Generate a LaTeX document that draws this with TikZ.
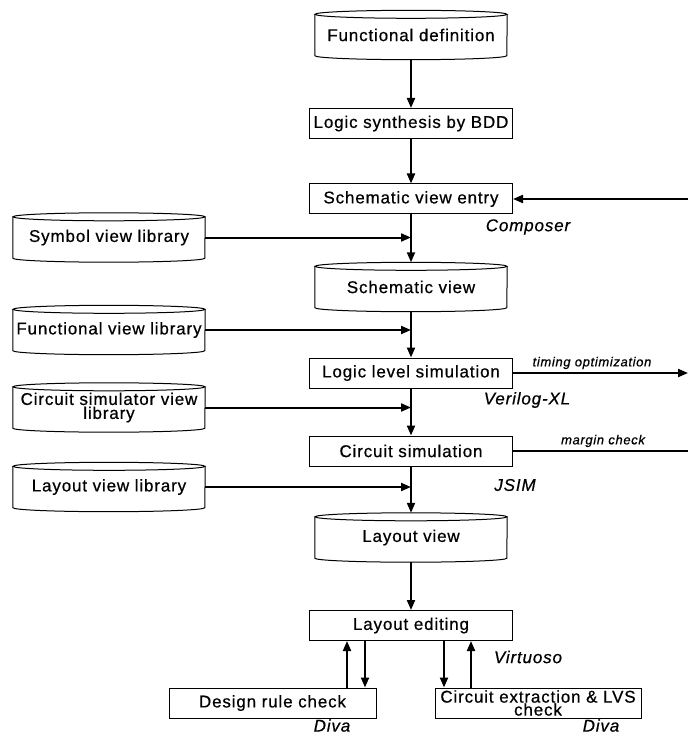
\documentclass[tikz,border=0pt]{standalone}
\usepackage{fontspec}
\setmainfont{Liberation Sans}[LetterSpace=5,FakeBold=0.6]
\usetikzlibrary{arrows.meta,calc}
\tikzset{
  box/.style={draw, line width=1pt, minimum width=203pt, minimum height=30pt, inner sep=0pt, font=\fontsize{17}{17}\selectfont, align=center},
  cylnode/.style={minimum width=192pt, minimum height=49pt, inner sep=0pt, font=\fontsize{17}{17}\selectfont, align=center},
  arr/.style={line width=2pt, -{Triangle[length=10pt,width=8pt]}},
  plain/.style={line width=1.3pt},
  tool/.style={font=\fontsize{17}{17}\selectfont\itshape, inner sep=0pt},
  small/.style={font=\fontsize{13}{13}\selectfont\itshape, inner sep=0pt},
}
\newcommand\cylout[1]{%
  \draw[line width=1pt] ([yshift=-4pt]#1.north) ellipse [x radius=96pt, y radius=4pt];
  \draw[line width=1pt] ([yshift=-4pt]#1.north west) -- ([yshift=4pt]#1.south west)
     arc [start angle=180, end angle=360, x radius=96pt, y radius=4pt]
     -- ([yshift=-4pt]#1.north east);
}
\begin{document}
\begin{tikzpicture}[x=1pt,y=-1pt]
\fill[white] (0,0) rectangle (688,735);
\useasboundingbox (0,0) rectangle (688,735);

\node[cylnode] (fd) at (411,35) {\raisebox{-2pt}{Functional definition}};
\node[box] (ls) at (411,123.5) {\raisebox{-1.5pt}{Logic synthesis by BDD}};
\node[box] (sve) at (411,199) {\raisebox{-1.5pt}{Schematic view entry}};
\node[cylnode] (slib) at (109,237.5) {\raisebox{-2pt}{Symbol view library}};
\node[cylnode] (sv) at (411,287) {\raisebox{-2pt}{Schematic view}};
\node[cylnode] (flib) at (109,330) {\raisebox{-2pt}{Functional view library}};
\node[box] (lls) at (411,373) {\raisebox{-1.5pt}{Logic level simulation}};
\node[cylnode, font=\fontsize{17}{14}\selectfont] (clib) at (109,407.5) {Circuit simulator view\\library};
\node[box] (cs) at (411,451) {\raisebox{-1.5pt}{Circuit simulation}};
\node[cylnode] (llib) at (109,487) {\raisebox{-2pt}{Layout view library}};
\node[cylnode] (lv) at (411,537.5) {\raisebox{-2pt}{Layout view}};
\node[box] (le) at (411,625.5) {\raisebox{-1.5pt}{Layout editing}};
\node[box, minimum width=207pt] (drc) at (272.5,703) {\raisebox{-1.5pt}{Design rule check}};
\node[box, minimum width=206pt, font=\fontsize{17}{13}\selectfont] (ce) at (538,703) {Circuit extraction \& LVS\\check};

\foreach \c in {fd,slib,sv,flib,clib,llib,lv} {\cylout{\c}}

\coordinate (r1) at (688,199);
\coordinate (r2) at (688,373);
\coordinate (r3) at (688,451);

\draw[arr] (fd.south) -- (ls.north);
\draw[arr] (ls.south) -- (sve.north);
\draw[arr] (sve.south) -- (sv.north);
\draw[arr] (sv.south) -- (lls.north);
\draw[arr] (lls.south) -- (cs.north);
\draw[arr] (cs.south) -- (lv.north);
\draw[arr] (lv.south) -- (le.north);

\draw[arr] (slib.east) -- (slib.east -| sv.north);
\draw[arr] (flib.east) -- (flib.east -| sv.north);
\draw[arr] (clib.east) -- (clib.east -| sv.north);
\draw[arr] (llib.east) -- (llib.east -| sv.north);

\draw[arr] (r1) -- (sve.east);
\draw[arr] (lls.east) -- (r2);
\draw[plain] (cs.east) -- (r3);

\draw[arr] ([xshift=74.5pt]drc.north) -- ([xshift=74.5pt]drc.north |- le.south);
\draw[arr] ([xshift=92.5pt]drc.north |- le.south) -- ([xshift=92.5pt]drc.north);
\draw[arr] ([xshift=-94pt]ce.north |- le.south) -- ([xshift=-94pt]ce.north);
\draw[arr] ([xshift=-67pt]ce.north) -- ([xshift=-67pt]ce.north |- le.south);

\node[tool] (comp) at (528,227) {Composer};
\node[tool] (ver) at (527,400) {Verilog-XL};
\node[tool] (jsim) at (515,485) {JSIM};
\node[tool] (virt) at (528,657) {Virtuoso};
\node[tool] (diva1) at (332,725.5) {Diva};
\node[tool] (diva2) at (601,725.5) {Diva};
\node[small] (tlab) at (592,363) {timing optimization};
\node[small] (mlab) at (603,441) {margin check};
\end{tikzpicture}
\end{document}
